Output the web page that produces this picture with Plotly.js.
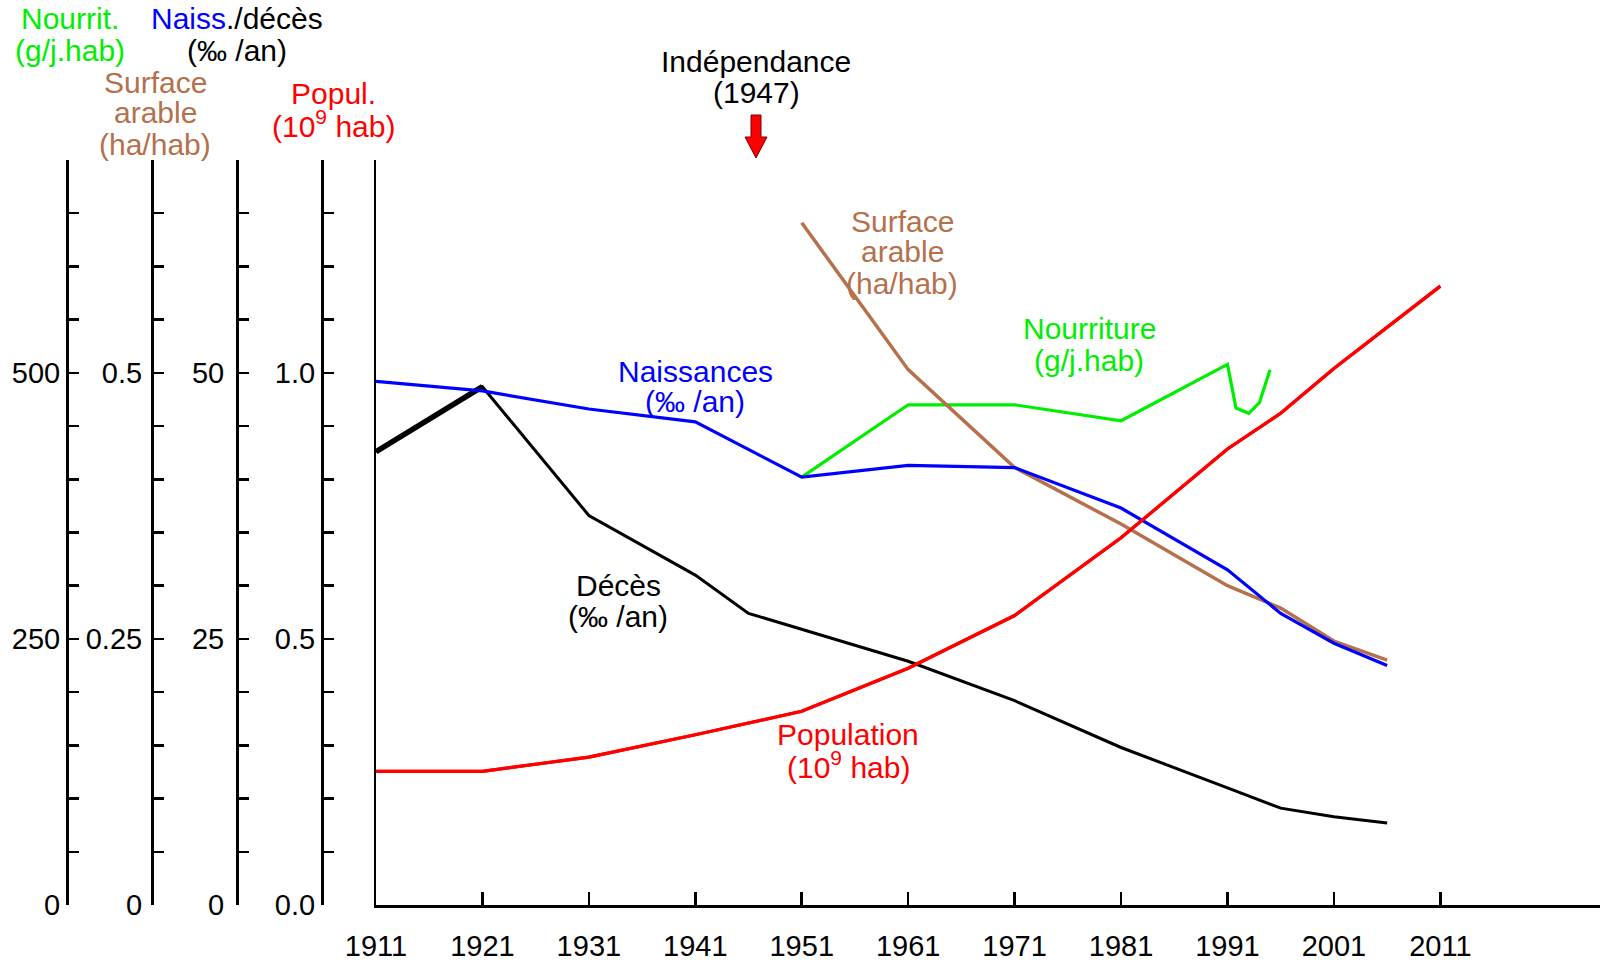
<!DOCTYPE html>
<html>
<head>
<meta charset="utf-8">
<script src="https://cdn.plot.ly/plotly-3.0.1.min.js"></script>
<style>html,body{margin:0;padding:0;background:#fff;}#chart{width:1600px;height:960px;}</style>
</head>
<body>
<div id="chart"></div>
<script>
// ---- data ----
const yearTicks = [1911, 1921, 1931, 1941, 1951, 1961, 1971, 1981, 1991, 2001, 2011];
const yearTickLabels = ['1911', '1921', '1931', '1941', '1951', '1961', '1971', '1981', '1991', '2001', '2011'];

const popYears = [1911, 1921, 1931, 1941, 1951, 1961, 1971, 1981, 1991, 1996, 2001, 2011];
const popValues = [0.251, 0.251, 0.278, 0.320, 0.364, 0.445, 0.544, 0.690, 0.857, 0.924, 1.008, 1.163];

const birthYears = [1911, 1921, 1931, 1941, 1951, 1961, 1971, 1981, 1991, 1996, 2001, 2006];
const birthValues = [49.2, 48.3, 46.6, 45.4, 40.2, 41.3, 41.1, 37.3, 31.5, 27.4, 24.6, 22.5];

const deathYears = [1911, 1921, 1931, 1941, 1946, 1961, 1971, 1981, 1991, 1996, 2001, 2006];
const deathValues = [42.6, 48.7, 36.6, 31.0, 27.4, 22.9, 19.2, 14.8, 11.0, 9.1, 8.3, 7.7];

const landYears = [1951, 1961, 1971, 1981, 1991, 1996, 2001, 2006];
const landValues = [0.641, 0.503, 0.411, 0.358, 0.300, 0.279, 0.248, 0.230];

const foodYears = [1951, 1961, 1971, 1981, 1991, 1991.8, 1993, 1994, 1995];
const foodValues = [402, 470, 470, 455, 508, 467, 462, 472, 503];

// axis ticks (values + labels)
const foodTickVals = [0, 50, 100, 150, 200, 250, 300, 350, 400, 450, 500, 550, 600, 650, 700];
const foodTickText = ['0', '', '', '', '', '250', '', '', '', '', '500', '', '', '', ''];
const landTickVals = [0, 0.05, 0.1, 0.15, 0.2, 0.25, 0.3, 0.35, 0.4, 0.45, 0.5, 0.55, 0.6, 0.65, 0.7];
const landTickText = ['0', '', '', '', '', '0.25', '', '', '', '', '0.5', '', '', '', ''];
const rateTickVals = [0, 5, 10, 15, 20, 25, 30, 35, 40, 45, 50, 55, 60, 65, 70];
const rateTickText = ['0', '', '', '', '', '25', '', '', '', '', '50', '', '', '', ''];
const popTickVals = [0, 0.1, 0.2, 0.3, 0.4, 0.5, 0.6, 0.7, 0.8, 0.9, 1.0, 1.1, 1.2, 1.3, 1.4];
const popTickText = ['0.0', '', '', '', '', '0.5', '', '', '', '', '1.0', '', '', '', ''];

// ---- style ----
const FONT = 'Liberation Sans, Arial, Helvetica, sans-serif';
const FS = 30;      // annotation font
const TFS = 29;     // tick label font
const GREEN = '#00ee00', BLUE = '#0000ff', RED = '#ff0000', BROWN = '#b5714c', BLACK = '#000000';
const W = 1600, H = 960;
const px = x => x / W;
const py = y => (H - y) / H;
const DOM = [py(905), py(160)];

const traces = [
  {x: popYears, y: popValues, yaxis: 'y', mode: 'lines', line: {color: RED, width: 3.2}},
  {x: deathYears, y: deathValues, yaxis: 'y4', mode: 'lines', line: {color: BLACK, width: 3}},
  {x: deathYears.slice(0, 2), y: deathValues.slice(0, 2), yaxis: 'y4', mode: 'lines', line: {color: BLACK, width: 5.5}},
  {x: birthYears, y: birthValues, yaxis: 'y4', mode: 'lines', line: {color: BLUE, width: 3.2}},
  {x: landYears, y: landValues, yaxis: 'y3', mode: 'lines', line: {color: BROWN, width: 3.5}},
  {x: foodYears, y: foodValues, yaxis: 'y2', mode: 'lines', line: {color: GREEN, width: 3.2}},
  // carries the population tick axis (same scale as the main axis)
  {x: popYears, y: popValues, yaxis: 'y5', mode: 'lines', line: {color: RED, width: 3.2}}
];

function sideAxis(pos, range, vals, text, standoff) {
  return {
    domain: DOM, range: range, anchor: 'free', overlaying: 'y', position: pos, side: 'left',
    tickmode: 'array', tickvals: vals, ticktext: text,
    ticks: 'inside', ticklen: 10, tickwidth: 2.5, tickcolor: BLACK,
    showline: true, linewidth: 2.5, linecolor: BLACK, showgrid: false, zeroline: false,
    tickfont: {family: FONT, size: TFS, color: BLACK}, ticklabelstandoff: standoff || 0
  };
}

const layout = {
  width: W, height: H,
  margin: {l: 0, r: 0, t: 0, b: 0, pad: 0},
  paper_bgcolor: '#ffffff', plot_bgcolor: 'rgba(0,0,0,0)',
  showlegend: false,
  font: {family: FONT, size: FS, color: BLACK},
  xaxis: {
    domain: [px(376), 1], range: [1911, 2026],
    tickmode: 'array', tickvals: yearTicks, ticktext: yearTickLabels,
    ticks: 'inside', ticklen: 13, tickwidth: 2.5, tickcolor: BLACK,
    showline: true, linewidth: 2.5, linecolor: BLACK, showgrid: false, zeroline: false,
    tickfont: {family: FONT, size: TFS, color: BLACK}, ticklabelstandoff: 14,
    anchor: 'y'
  },
  yaxis: {
    domain: DOM, range: [0, 1.4], showticklabels: false, ticks: '',
    showline: true, linewidth: 2.5, linecolor: BLACK, showgrid: false, zeroline: false
  },
  yaxis2: sideAxis(px(67), [0, 700], foodTickVals, foodTickText, 0),
  yaxis3: sideAxis(px(152), [0, 0.7], landTickVals, landTickText, 3),
  yaxis4: sideAxis(px(237), [0, 70], rateTickVals, rateTickText, 6),
  yaxis5: sideAxis(px(322), [0, 1.4], popTickVals, popTickText, 0),
  annotations: [],
  shapes: [
    {type: 'path', xref: 'paper', yref: 'paper',
     path: `M ${px(751)},${py(115)} L ${px(761)},${py(115)} L ${px(761)},${py(137)} L ${px(767)},${py(137)} L ${px(756)},${py(158)} L ${px(745)},${py(137)} L ${px(751)},${py(137)} Z`,
     fillcolor: RED, line: {color: '#7a0000', width: 1}}
  ]
};

function label(lines, x, y0, color, step) {
  step = step || 31;
  lines.forEach((t, i) => {
    layout.annotations.push({
      xref: 'paper', yref: 'paper', x: px(x), y: py(y0 + i * step),
      xanchor: 'center', yanchor: 'middle', showarrow: false, text: t,
      font: {family: FONT, size: FS, color: color}
    });
  });
}

label(['Nourrit.', '(g/j.hab)'], 70, 19, GREEN);
label([`<span style="color:${BLUE}">Naiss</span>./décès`, '(‰ /an)'], 237, 19, BLACK);
label(['Surface', 'arable', '(ha/hab)'], 155, 82, BROWN);
label(['Popul.', '(10<sup>9</sup> hab)'], 333, 93, RED);
label(['Indépendance', '(1947)'], 756, 61, BLACK);
label(['Surface', 'arable', '(ha/hab)'], 902, 221, BROWN);
label(['Nourriture', '(g/j.hab)'], 1089, 329, GREEN);
label(['Naissances', '(‰ /an)'], 695, 371, BLUE);
label(['Décès', '(‰ /an)'], 618, 585, BLACK);
label(['Population', '(10<sup>9</sup> hab)'], 848, 734, RED);

Plotly.newPlot('chart', traces, layout, {staticPlot: true, displayModeBar: false});
</script>
</body>
</html>
